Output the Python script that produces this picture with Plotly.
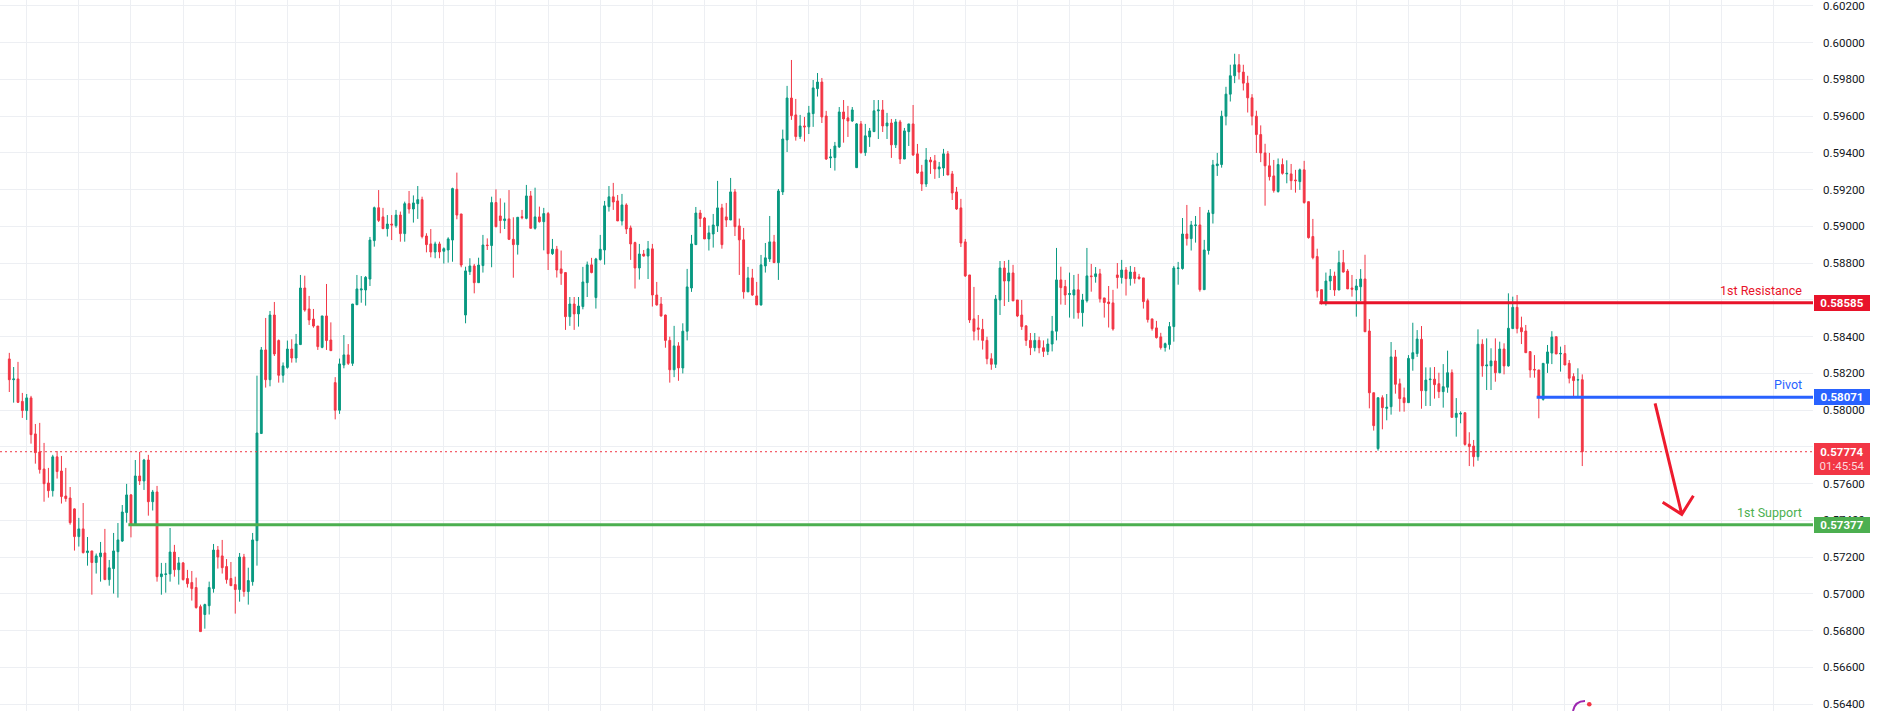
import plotly.graph_objects as go

# ---------------- data ----------------
opens = [
0.58279,0.58166,0.58170,0.58048,0.57998,0.58067,0.57871,0.57773,0.57680,0.57604,
0.57562,0.57746,0.57669,0.57533,0.57522,0.57463,0.57312,0.57354,0.57225,0.57234,
0.57171,0.57203,0.57223,0.57078,0.57138,0.57230,0.57288,0.57443,0.57539,0.57374,
0.57642,0.57615,0.57729,0.57502,0.57555,0.57094,0.57106,0.57109,0.57228,0.57132,
0.57169,0.57084,0.57062,0.57035,0.56931,0.56888,0.56936,0.57029,0.57239,0.57207,
0.57149,0.57084,0.57051,0.57024,0.57201,0.57013,0.57067,0.57290,0.57873,0.58328,
0.58166,0.58518,0.58379,0.58190,0.58233,0.58333,0.58284,0.58357,0.58665,0.58551,
0.58496,0.58458,0.58342,0.58513,0.58382,0.58150,0.58000,0.58246,0.58301,0.58255,
0.58574,0.58654,0.58654,0.58714,0.58923,0.59102,0.59052,0.58988,0.59013,0.59004,
0.59062,0.58961,0.59124,0.59095,0.59124,0.59146,0.58948,0.58905,0.58861,0.58905,
0.58865,0.58872,0.58926,0.59202,0.59068,0.58518,0.58754,0.58785,0.58694,0.58787,
0.58899,0.58896,0.59130,0.59057,0.59032,0.59041,0.58930,0.58901,0.59053,0.59044,
0.59166,0.58990,0.59052,0.59026,0.59070,0.58852,0.58876,0.58769,0.58749,0.58509,
0.58578,0.58524,0.58564,0.58694,0.58791,0.58613,0.58820,0.58872,0.59108,0.59161,
0.59139,0.59030,0.59117,0.58992,0.58912,0.58774,0.58850,0.58839,0.58878,0.58627,
0.58578,0.58518,0.58380,0.58220,0.58350,0.58230,0.58430,0.58665,0.58901,0.59073,
0.59046,0.58932,0.58959,0.59003,0.59101,0.59052,0.59035,0.59188,0.59003,0.58927,
0.58644,0.58720,0.58622,0.58573,0.58785,0.58823,0.58916,0.58803,0.59188,0.59471,
0.59699,0.59607,0.59489,0.59547,0.59542,0.59614,0.59750,0.59786,0.59601,0.59373,
0.59375,0.59433,0.59623,0.59591,0.59574,0.59320,0.59558,0.59402,0.59487,0.59516,
0.59629,0.59634,0.59547,0.59563,0.59444,0.59569,0.59367,0.59516,0.59558,0.59395,
0.59297,0.59231,0.59362,0.59357,0.59313,0.59318,0.59395,0.59286,0.59188,0.59101,
0.58916,0.58736,0.58497,0.58448,0.58440,0.58380,0.58280,0.58250,0.58600,0.58774,
0.58703,0.58747,0.58600,0.58518,0.58459,0.58380,0.58340,0.58380,0.58340,0.58320,
0.58360,0.58430,0.58709,0.58673,0.58629,0.58627,0.58655,0.58531,0.58596,0.58731,
0.58727,0.58742,0.58611,0.58589,0.58584,0.58736,0.58722,0.58763,0.58716,0.58752,
0.58725,0.58720,0.58596,0.58497,0.58448,0.58399,0.58341,0.58357,0.58455,0.58771,
0.58771,0.58959,0.58934,0.59005,0.59008,0.58656,0.58869,0.59070,0.59331,0.59337,
0.59600,0.59720,0.59820,0.59880,0.59840,0.59780,0.59700,0.59600,0.59500,0.59400,
0.59330,0.59275,0.59190,0.59337,0.59286,0.59286,0.59253,0.59244,0.59308,0.59135,
0.58945,0.58836,0.58656,0.58580,0.58703,0.58730,0.58654,0.58803,0.58757,0.58665,
0.58654,0.58672,0.58714,0.58431,0.58095,0.57791,0.58068,0.58010,0.58019,0.58290,
0.58144,0.58068,0.58041,0.58280,0.58308,0.58386,0.58106,0.58166,0.58169,0.58144,
0.58101,0.58125,0.58204,0.57961,0.57979,0.57986,0.57816,0.57805,0.57747,0.58359,
0.58241,0.58241,0.58268,0.58204,0.58333,0.58241,0.58444,0.58560,0.58449,0.58431,
0.58319,0.58222,0.58219,0.58059,0.58255,0.58311,0.58400,0.58306,0.58308,0.58255,
0.58183,0.58164,0.58166]

highs = [
0.58312,0.58235,0.58263,0.58094,0.58088,0.58078,0.57925,0.57931,0.57822,0.57686,
0.57757,0.57778,0.57751,0.57686,0.57582,0.57466,0.57414,0.57495,0.57310,0.57234,
0.57220,0.57283,0.57354,0.57185,0.57332,0.57386,0.57484,0.57599,0.57544,0.57729,
0.57773,0.57735,0.57757,0.57566,0.57588,0.57169,0.57169,0.57359,0.57267,0.57201,
0.57174,0.57131,0.57125,0.57089,0.56942,0.56947,0.57067,0.57272,0.57261,0.57294,
0.57190,0.57174,0.57094,0.57223,0.57218,0.57143,0.57332,0.58188,0.58344,0.58502,
0.58540,0.58589,0.58385,0.58260,0.58379,0.58386,0.58415,0.58736,0.58732,0.58622,
0.58551,0.58458,0.58513,0.58687,0.58478,0.58180,0.58281,0.58409,0.58360,0.58578,
0.58736,0.58730,0.58730,0.58943,0.59108,0.59198,0.59101,0.59062,0.59062,0.59090,
0.59081,0.59135,0.59193,0.59169,0.59220,0.59162,0.58963,0.58986,0.58917,0.58917,
0.58886,0.58941,0.59211,0.59293,0.59068,0.58781,0.58827,0.58796,0.58830,0.58954,
0.58935,0.59162,0.59202,0.59153,0.59130,0.59198,0.59050,0.59050,0.59090,0.59226,
0.59193,0.59211,0.59108,0.59101,0.59079,0.58932,0.58894,0.58869,0.58749,0.58616,
0.58616,0.58616,0.58780,0.58809,0.58829,0.58829,0.58954,0.59139,0.59220,0.59237,
0.59171,0.59177,0.59126,0.59005,0.58917,0.58905,0.58872,0.58921,0.58905,0.58698,
0.58616,0.58520,0.58400,0.58459,0.58370,0.58473,0.58769,0.58954,0.59106,0.59090,
0.59052,0.59005,0.59068,0.59248,0.59123,0.59128,0.59264,0.59204,0.59043,0.58992,
0.58780,0.58769,0.58698,0.58845,0.58910,0.59057,0.58954,0.59204,0.59527,0.59765,
0.59906,0.59694,0.59607,0.59596,0.59656,0.59797,0.59835,0.59808,0.59629,0.59422,
0.59460,0.59650,0.59688,0.59656,0.59650,0.59563,0.59574,0.59558,0.59536,0.59688,
0.59688,0.59688,0.59618,0.59585,0.59585,0.59580,0.59536,0.59558,0.59661,0.59449,
0.59335,0.59427,0.59378,0.59389,0.59351,0.59422,0.59411,0.59302,0.59215,0.59150,
0.58932,0.58736,0.58671,0.58518,0.58497,0.58400,0.58310,0.58627,0.58812,0.58812,
0.58818,0.58791,0.58600,0.58600,0.58460,0.58420,0.58420,0.58400,0.58380,0.58390,
0.58513,0.58883,0.58781,0.58709,0.58749,0.58736,0.58742,0.58633,0.58883,0.58796,
0.58779,0.58769,0.58611,0.58676,0.58655,0.58801,0.58818,0.58779,0.58785,0.58779,
0.58742,0.58720,0.58607,0.58497,0.58486,0.58421,0.58368,0.58480,0.58785,0.58807,
0.59046,0.59117,0.59030,0.59057,0.59106,0.58927,0.59090,0.59362,0.59400,0.59630,
0.59760,0.59880,0.59940,0.59938,0.59880,0.59820,0.59720,0.59630,0.59550,0.59450,
0.59400,0.59362,0.59370,0.59370,0.59360,0.59340,0.59308,0.59315,0.59357,0.59135,
0.59041,0.58879,0.58656,0.58749,0.58768,0.58754,0.58868,0.58872,0.58768,0.58736,
0.58714,0.58768,0.58846,0.58496,0.58095,0.58068,0.58081,0.58088,0.58371,0.58328,
0.58172,0.58123,0.58300,0.58476,0.58436,0.58458,0.58233,0.58233,0.58235,0.58204,
0.58251,0.58324,0.58222,0.58066,0.57994,0.57988,0.57880,0.57838,0.58440,0.58386,
0.58391,0.58337,0.58391,0.58373,0.58364,0.58636,0.58618,0.58627,0.58509,0.58464,
0.58319,0.58300,0.58219,0.58255,0.58355,0.58430,0.58400,0.58346,0.58355,0.58273,
0.58201,0.58228,0.58195]

lows = [
0.58099,0.58041,0.58039,0.57958,0.57947,0.57818,0.57709,0.57655,0.57502,0.57524,
0.57530,0.57628,0.57492,0.57502,0.57377,0.57236,0.57258,0.57220,0.57154,0.56996,
0.57111,0.57067,0.57078,0.57045,0.57002,0.56980,0.57283,0.57388,0.57308,0.57374,
0.57593,0.57566,0.57426,0.57454,0.57067,0.56996,0.57007,0.57067,0.57094,0.57051,
0.57073,0.57035,0.56964,0.56920,0.56795,0.56811,0.56888,0.57007,0.57138,0.57111,
0.57056,0.57045,0.56893,0.56958,0.56985,0.56942,0.57045,0.57154,0.57873,0.58123,
0.58130,0.58295,0.58150,0.58150,0.58226,0.58259,0.58259,0.58357,0.58536,0.58464,
0.58449,0.58328,0.58337,0.58328,0.58324,0.57950,0.57980,0.58228,0.58246,0.58241,
0.58574,0.58585,0.58569,0.58676,0.58890,0.59024,0.58988,0.58945,0.58926,0.58993,
0.58917,0.58917,0.59070,0.59021,0.59041,0.58935,0.58859,0.58832,0.58827,0.58827,
0.58798,0.58803,0.58808,0.59039,0.58778,0.58473,0.58736,0.58636,0.58694,0.58749,
0.58872,0.58778,0.58995,0.58963,0.58986,0.58926,0.58721,0.58847,0.59039,0.59039,
0.58990,0.58983,0.59021,0.58870,0.58763,0.58845,0.58722,0.58682,0.58437,0.58459,
0.58437,0.58455,0.58549,0.58616,0.58745,0.58553,0.58814,0.58792,0.59081,0.59090,
0.59030,0.59005,0.58959,0.58818,0.58662,0.58711,0.58836,0.58714,0.58564,0.58569,
0.58509,0.58340,0.58150,0.58180,0.58160,0.58200,0.58380,0.58644,0.58901,0.58997,
0.58932,0.58869,0.58885,0.58970,0.58879,0.58997,0.59035,0.58948,0.58736,0.58607,
0.58644,0.58622,0.58573,0.58569,0.58749,0.58807,0.58803,0.58709,0.59171,0.59405,
0.59580,0.59467,0.59476,0.59462,0.59503,0.59542,0.59707,0.59563,0.59362,0.59318,
0.59304,0.59427,0.59456,0.59487,0.59569,0.59320,0.59396,0.59384,0.59433,0.59516,
0.59476,0.59514,0.59476,0.59373,0.59427,0.59340,0.59367,0.59438,0.59384,0.59286,
0.59193,0.59215,0.59286,0.59259,0.59264,0.59275,0.59280,0.59144,0.59090,0.58888,
0.58725,0.58475,0.58380,0.58380,0.58330,0.58250,0.58220,0.58230,0.58518,0.58567,
0.58589,0.58595,0.58507,0.58437,0.58350,0.58300,0.58320,0.58310,0.58290,0.58300,
0.58320,0.58380,0.58575,0.58573,0.58504,0.58498,0.58498,0.58455,0.58586,0.58645,
0.58694,0.58586,0.58504,0.58450,0.58433,0.58662,0.58689,0.58624,0.58678,0.58689,
0.58711,0.58553,0.58477,0.58433,0.58390,0.58330,0.58319,0.58330,0.58373,0.58683,
0.58765,0.58896,0.58869,0.58912,0.58645,0.58656,0.58847,0.59016,0.59275,0.59320,
0.59550,0.59680,0.59780,0.59800,0.59740,0.59620,0.59550,0.59400,0.59350,0.59113,
0.59250,0.59184,0.59184,0.59282,0.59235,0.59199,0.59184,0.59199,0.59124,0.58934,
0.58821,0.58613,0.58575,0.58569,0.58654,0.58622,0.58654,0.58749,0.58660,0.58618,
0.58509,0.58594,0.58427,0.58010,0.57889,0.57780,0.57896,0.57945,0.57976,0.58090,
0.57992,0.57992,0.58041,0.58215,0.58290,0.58008,0.58023,0.58023,0.58063,0.58066,
0.58014,0.58095,0.57961,0.57856,0.57929,0.57807,0.57696,0.57693,0.57725,0.58182,
0.58110,0.58110,0.58155,0.58201,0.58195,0.58237,0.58444,0.58418,0.58360,0.58313,
0.58177,0.58177,0.57956,0.58052,0.58203,0.58251,0.58306,0.58210,0.58246,0.58146,
0.58074,0.58074,0.57696]

closes = [
0.58166,0.58170,0.58043,0.57998,0.58067,0.57867,0.57769,0.57677,0.57600,0.57562,
0.57746,0.57666,0.57530,0.57519,0.57388,0.57312,0.57354,0.57225,0.57234,0.57171,
0.57207,0.57223,0.57078,0.57142,0.57234,0.57294,0.57446,0.57539,0.57374,0.57642,
0.57615,0.57729,0.57502,0.57555,0.57094,0.57109,0.57109,0.57228,0.57132,0.57169,
0.57078,0.57056,0.57029,0.56926,0.56795,0.56942,0.57035,0.57239,0.57201,0.57143,
0.57078,0.57045,0.57024,0.57201,0.57013,0.57073,0.57294,0.57876,0.58328,0.58166,
0.58518,0.58306,0.58190,0.58241,0.58333,0.58284,0.58360,0.58665,0.58545,0.58491,
0.58458,0.58346,0.58513,0.58379,0.58324,0.58000,0.58252,0.58301,0.58255,0.58578,
0.58660,0.58660,0.58723,0.58926,0.59102,0.59033,0.58988,0.59013,0.59008,0.59062,
0.58961,0.59124,0.59095,0.59128,0.59146,0.58945,0.58901,0.58861,0.58905,0.58861,
0.58879,0.58932,0.59206,0.59062,0.58790,0.58758,0.58785,0.58694,0.58790,0.58899,
0.58896,0.59130,0.58999,0.59032,0.59041,0.58930,0.58901,0.59050,0.59048,0.59166,
0.58990,0.59052,0.59026,0.59070,0.58852,0.58876,0.58763,0.58745,0.58509,0.58578,
0.58524,0.58567,0.58698,0.58791,0.58749,0.58823,0.58876,0.59112,0.59161,0.59133,
0.59030,0.59117,0.58986,0.58905,0.58774,0.58850,0.58839,0.58878,0.58627,0.58573,
0.58513,0.58380,0.58220,0.58350,0.58230,0.58430,0.58671,0.58905,0.59073,0.59043,
0.58932,0.58965,0.59008,0.59101,0.58901,0.59035,0.59188,0.58999,0.58927,0.58644,
0.58720,0.58627,0.58573,0.58791,0.58829,0.58916,0.58803,0.59193,0.59476,0.59699,
0.59603,0.59489,0.59547,0.59542,0.59618,0.59754,0.59786,0.59596,0.59367,0.59378,
0.59438,0.59623,0.59585,0.59574,0.59634,0.59558,0.59402,0.59493,0.59520,0.59629,
0.59634,0.59547,0.59563,0.59444,0.59569,0.59367,0.59520,0.59558,0.59389,0.59291,
0.59231,0.59362,0.59351,0.59313,0.59324,0.59395,0.59280,0.59182,0.59095,0.58910,
0.58731,0.58491,0.58430,0.58440,0.58380,0.58280,0.58250,0.58605,0.58774,0.58703,
0.58747,0.58595,0.58513,0.58455,0.58380,0.58340,0.58380,0.58340,0.58320,0.58360,
0.58430,0.58709,0.58667,0.58627,0.58635,0.58655,0.58531,0.58600,0.58731,0.58727,
0.58742,0.58606,0.58586,0.58580,0.58442,0.58722,0.58763,0.58716,0.58752,0.58716,
0.58716,0.58591,0.58493,0.58444,0.58395,0.58341,0.58362,0.58455,0.58774,0.58774,
0.58959,0.58934,0.59008,0.59008,0.58656,0.58872,0.59074,0.59335,0.59340,0.59600,
0.59720,0.59820,0.59880,0.59840,0.59780,0.59700,0.59600,0.59500,0.59400,0.59330,
0.59271,0.59195,0.59337,0.59289,0.59289,0.59249,0.59249,0.59308,0.59130,0.58939,
0.58830,0.58649,0.58584,0.58703,0.58730,0.58654,0.58803,0.58752,0.58660,0.58658,
0.58676,0.58714,0.58427,0.58095,0.57916,0.58068,0.58014,0.58016,0.58290,0.58141,
0.58063,0.58041,0.58282,0.58313,0.58387,0.58106,0.58164,0.58169,0.58139,0.58101,
0.58128,0.58204,0.57961,0.57983,0.57983,0.57814,0.57802,0.57747,0.58359,0.58241,
0.58246,0.58268,0.58204,0.58333,0.58241,0.58446,0.58560,0.58444,0.58427,0.58313,
0.58219,0.58219,0.58074,0.58255,0.58317,0.58398,0.58306,0.58309,0.58246,0.58174,
0.58161,0.58166,0.57774]

resistance = 0.58585
pivot = 0.58071
support = 0.57377
last_price = 0.57774
countdown = "01:45:54"
level_names = ["1st Resistance", "Pivot", "1st Support"]

# candle index where each drawn level starts
res_start, piv_start, sup_start = 301.5, 351.5, 27.4
# day-separator grid (candle indices)
vgrid = list(range(4, 269, 12)) + list(range(286, 420, 12))

# ---------------- styling ----------------
UP, DOWN = "#089981", "#F23645"
RES_C, PIV_C, SUP_C = "#E8132A", "#2962FF", "#4CAF50"
GRID = "#EDEFF3"
W, H = 1881, 711
X_RANGE = [-2.14, 415.1]
Y_RANGE = [0.56363, 0.602324]

highs = [max(h, o, c) for h, o, c in zip(highs, opens, closes)]
lows = [min(l, o, c) for l, o, c in zip(lows, opens, closes)]
x = list(range(len(opens)))

fig = go.Figure(go.Candlestick(
    x=x, open=opens, high=highs, low=lows, close=closes,
    increasing=dict(line=dict(color=UP, width=1), fillcolor=UP),
    decreasing=dict(line=dict(color=DOWN, width=1), fillcolor=DOWN),
    whiskerwidth=0, showlegend=False, hoverinfo="skip"))

shapes = [
    dict(type="line", xref="x", yref="y", x0=res_start, x1=X_RANGE[1], y0=resistance, y1=resistance,
         line=dict(color=RES_C, width=3)),
    dict(type="line", xref="x", yref="y", x0=piv_start, x1=X_RANGE[1], y0=pivot, y1=pivot,
         line=dict(color=PIV_C, width=3)),
    dict(type="line", xref="x", yref="y", x0=sup_start, x1=X_RANGE[1], y0=support, y1=support,
         line=dict(color=SUP_C, width=3)),
    dict(type="line", xref="paper", yref="y", x0=0, x1=1, y0=last_price, y1=last_price,
         line=dict(color=DOWN, width=1, dash="2px,3px")),
    # hand-drawn arrow
    dict(type="path", xref="x", yref="y",
         path="M 378.76,0.580375 L 384.9,0.574334 M 380.5,0.574988 L 384.9,0.574334 L 387.57,0.575347",
         line=dict(color="#EE1B2E", width=3)),
    # small marker at the bottom
    dict(type="path", xref="paper", yref="paper",
         path="M 0.86762,0.0 Q 0.86873,0.014065 0.87424,0.014065",
         line=dict(color="#9C27B0", width=2)),
    dict(type="circle", xref="paper", yref="paper", x0=0.87534, x1=0.87788, y0=0.00619, y1=0.01266,
         fillcolor="#F23645", line=dict(color="#F23645", width=0)),
]

FONT = "Roboto, Liberation Sans, sans-serif"
ann = []
for name, lvl, col in zip(level_names, [resistance, pivot, support], [RES_C, PIV_C, SUP_C]):
    ann.append(dict(xref="paper", yref="y", x=1804 / 1813, y=lvl, xanchor="right", yanchor="middle",
                    yshift=12.5, text=name, showarrow=False, font=dict(family=FONT, size=12.5, color=col)))
    ann.append(dict(xref="paper", yref="y", x=1814 / 1813, y=lvl, xanchor="left", yanchor="middle",
                    text="<b>%.5f</b>" % lvl, showarrow=False, width=52, height=12, borderpad=1,
                    borderwidth=1, bordercolor=col, bgcolor=col,
                    font=dict(family=FONT, size=11.5, color="white")))
ann.append(dict(xref="paper", yref="y", x=1814 / 1813, y=last_price, xanchor="left", yanchor="middle",
                yshift=-6.9, text="<b>%.5f</b><br><span style='color:#FCD9DD'>%s</span>" % (last_price, countdown),
                showarrow=False, width=52, height=28, borderpad=1, borderwidth=1,
                bordercolor=DOWN, bgcolor=DOWN, font=dict(family=FONT, size=11.5, color="white")))

fig.update_layout(
    width=W, height=H, margin=dict(l=0, r=68, t=0, b=0),
    paper_bgcolor="white", plot_bgcolor="white", boxgap=0.4,
    shapes=shapes, annotations=ann,
    xaxis=dict(range=X_RANGE, rangeslider=dict(visible=False), showticklabels=False,
               tickmode="array", tickvals=vgrid, showgrid=True, gridcolor=GRID, gridwidth=1,
               zeroline=False, showline=False, ticks=""),
    yaxis=dict(side="right", range=Y_RANGE, dtick=0.002, tick0=0, tickformat=".5f",
               showgrid=True, gridcolor=GRID, gridwidth=1, zeroline=False, showline=False,
               ticks="", ticklabelstandoff=9, ticklabeloverflow="allow",
               tickfont=dict(family=FONT, size=11.5, color="#131722")),
)

fig.write_html("out.html", config={"displayModeBar": False},
               post_script="document.body.style.margin='0';document.body.style.overflow='hidden';")
